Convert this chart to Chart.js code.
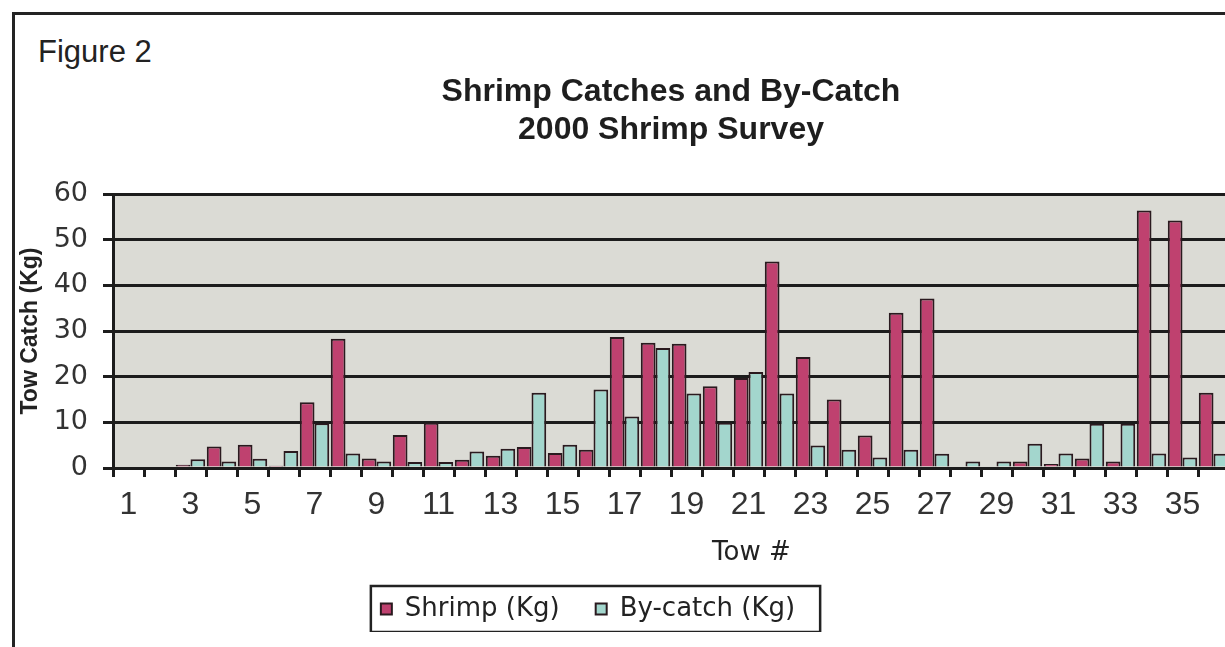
<!DOCTYPE html>
<html>
<head>
<meta charset="utf-8">
<title>Shrimp Catches and By-Catch</title>
<script src="https://cdn.jsdelivr.net/npm/chart.js@4.4.1/dist/chart.umd.min.js"></script>
<style>
  html, body { margin: 0; padding: 0; background: #ffffff; overflow: hidden; width: 1225px; height: 647px; }
  #frame { position: absolute; left: 12px; top: 12px; width: 1300px; height: 700px;
           border-top: 3px solid #232323; border-left: 3px solid #232323; }
  #fig { position: absolute; left: 38px; top: 34px; font: 31px 'Liberation Sans', Arial, sans-serif; color: #222; }
  #c { position: absolute; left: -62px; top: 0; }
</style>
</head>
<body>
<div id="frame"></div>
<div id="fig">Figure 2</div>
<canvas id="c" width="1300" height="632"></canvas>
<script>
// Tow numbers along the x axis
const tows = ['1','2','3','4','5','6','7','8','9','10','11','12','13','14','15','16','17','18',
              '19','20','21','22','23','24','25','26','27','28','29','30','31','32','33','34','35','36'];

// Catch per tow, kilograms
const shrimpKg  = [0, 0, 0.7, 4.7, 5.1, 0.5, 14.4, 28.3, 2.1, 7.2, 9.9, 1.8, 2.7, 4.6, 3.3, 4.0, 28.7, 27.4,
                   27.2, 17.9, 19.7, 45.2, 24.3, 15.0, 7.1, 34.0, 37.1, 0, 0, 1.4, 0.9, 2.1, 1.4, 56.4, 54.2, 16.5];
const bycatchKg = [0, 0, 1.9, 1.4, 2.0, 3.7, 9.8, 3.2, 1.4, 1.3, 1.3, 3.6, 4.2, 16.5, 5.1, 17.2, 11.3, 26.3,
                   16.3, 9.9, 21.0, 16.3, 4.9, 4.0, 2.3, 4.0, 3.1, 1.4, 1.4, 5.3, 3.2, 9.7, 9.7, 3.2, 2.3, 3.1];

// Value axis range
const yMin = 0, yMax = 60, yStep = 10;

const ink = '#1c1c1c';

// Grey plot background behind the grid
const plotBackground = {
  id: 'plotBackground',
  beforeDraw(chart) {
    const { ctx, chartArea: a } = chart;
    ctx.save();
    ctx.fillStyle = '#dbdbd5';
    ctx.fillRect(a.left, a.top, a.right - a.left, a.bottom - a.top);
    ctx.restore();
  }
};

// Boxed legend and the x-axis caption
const captions = {
  id: 'captions',
  afterDraw(chart) {
    const { ctx, chartArea: a, legend } = chart;
    ctx.save();
    const hb = legend.legendHitBoxes;
    if (hb && hb.length) {
      const first = hb[0], last = hb[hb.length - 1];
      const l = first.left - 10;
      const r = last.left + last.width + 25;
      const cy = first.top + first.height / 2;
      ctx.strokeStyle = '#222';
      ctx.lineWidth = 2.5;
      ctx.strokeRect(l, cy - 23, r - l, 46);
    }
    ctx.font = "26px 'DejaVu Sans', sans-serif";
    ctx.fillStyle = '#222';
    ctx.textAlign = 'center';
    ctx.textBaseline = 'middle';
    ctx.fillText('Tow #', a.left + 0.572 * (a.right - a.left), a.bottom + 85);
    ctx.restore();
  }
};

new Chart(document.getElementById('c'), {
  type: 'bar',
  data: {
    labels: tows,
    datasets: [
      { label: 'Shrimp (Kg)', data: shrimpKg, backgroundColor: '#bf416f', borderColor: '#2a1a1f',
        borderWidth: 2, categoryPercentage: 0.95, barPercentage: 1.0 },
      { label: 'By-catch (Kg)', data: bycatchKg, backgroundColor: '#a3d6cd', borderColor: '#2a1a1f',
        borderWidth: 2, categoryPercentage: 0.95, barPercentage: 1.0 }
    ]
  },
  options: {
    responsive: false,
    animation: false,
    devicePixelRatio: 1,
    layout: { padding: { left: 9, right: 9, top: 0, bottom: 0 } },
    plugins: {
      title: {
        display: true,
        fullSize: false,
        text: ['Shrimp Catches and By-Catch', '2000 Shrimp Survey'],
        color: '#1e1e1e',
        font: { family: "'Liberation Sans', Arial, sans-serif", size: 32, weight: 'bold', lineHeight: 38 / 32 },
        padding: { top: 73, bottom: 45 }
      },
      legend: {
        position: 'bottom',
        labels: {
          boxWidth: 11, boxHeight: 11, padding: 36, color: '#222',
          font: { family: "'DejaVu Sans', sans-serif", size: 26 }
        }
      },
      tooltip: { enabled: false }
    },
    scales: {
      x: {
        grid: { display: true, drawOnChartArea: false, drawTicks: true, tickLength: 9, lineWidth: 3, color: ink, offset: true },
        border: { display: true, color: ink, width: 3 },
        ticks: {
          autoSkip: false, maxRotation: 0, minRotation: 0, padding: 9, color: '#333',
          font: { family: "'Liberation Sans', Arial, sans-serif", size: 32 },
          callback(value, index) { return index % 2 === 0 ? this.getLabelForValue(value) : ''; }
        },
        afterFit(scale) { scale.height = 92; }
      },
      y: {
        min: yMin, max: yMax,
        ticks: { stepSize: yStep, padding: 15, color: '#333', font: { family: "'DejaVu Sans', sans-serif", size: 27 } },
        grid: { color: ink, lineWidth: 3, tickLength: 10, drawTicks: true },
        border: { display: true, color: ink, width: 3 },
        title: {
          display: true, text: 'Tow Catch (Kg)', color: '#222',
          font: { family: "'Liberation Sans', Arial, sans-serif", size: 23, weight: 'bold' },
          padding: { top: 70, bottom: 0 }
        },
        afterFit(scale) { scale.width = 166; }
      }
    }
  },
  plugins: [plotBackground, captions]
});
</script>
</body>
</html>
